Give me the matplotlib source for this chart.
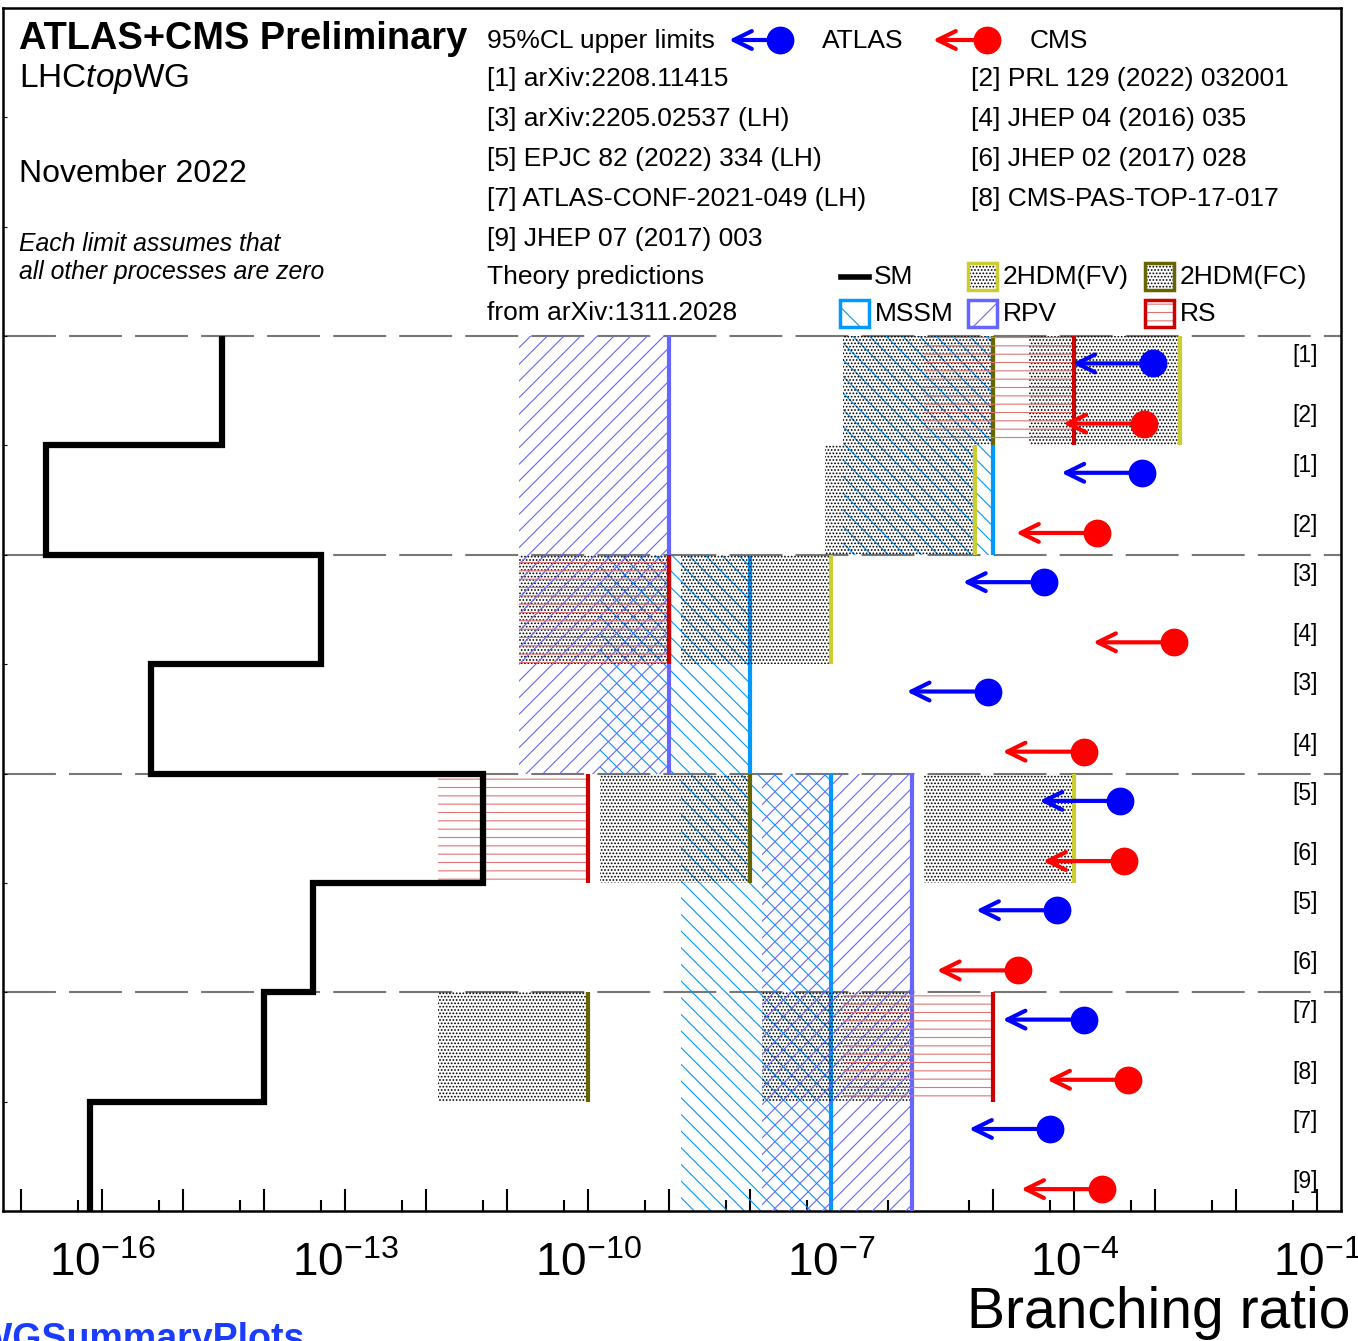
import numpy as np
import matplotlib.pyplot as plt
from matplotlib.patches import FancyArrowPatch, Rectangle
from matplotlib.lines import Line2D
from matplotlib.ticker import FixedLocator, FuncFormatter
import matplotlib.transforms as mtransforms

plt.rcParams['font.family'] = ['Liberation Sans', 'DejaVu Sans']
plt.rcParams['mathtext.fontset'] = 'custom'
plt.rcParams['mathtext.rm'] = 'Liberation Sans'
plt.rcParams['mathtext.it'] = 'Liberation Sans:italic'
plt.rcParams['mathtext.bf'] = 'Liberation Sans:bold'
plt.rcParams['hatch.linewidth'] = 0.8

# rows from top to bottom
processes = ['t->Hc', 't->Hu', 't->gamma c', 't->gamma u', 't->gc', 't->gu', 't->Zc', 't->Zu']
sm = [3e-15, 2e-17, 5e-14, 4e-16, 5e-12, 4e-14, 1e-14, 7e-17]
thdm_fv = [2e-3, 6e-6, 1e-7, None, 1e-4, None, 1e-6, None]
thdm_fc = [1e-5, None, 1e-9, None, 1e-8, None, 1e-10, None]
mssm = [1e-5, 1e-5, 1e-8, 1e-8, 1e-7, 1e-7, 1e-7, 1e-7]
rpv = [1e-9, 1e-9, 1e-9, 1e-9, 1e-6, 1e-6, 1e-6, 1e-6]
rs = [1e-4, None, 1e-9, None, 1e-10, None, 1e-5, None]

# 95% CL upper limits
atlas = [9.4e-4, 6.9e-4, 4.2e-5, 8.5e-6, 3.7e-4, 6.1e-5, 1.3e-4, 5.0e-5]
cms = [7.3e-4, 1.9e-4, 1.7e-3, 1.3e-4, 4.1e-4, 2.0e-5, 4.6e-4, 2.2e-4]
atlas_ref = ['[1]', '[1]', '[3]', '[3]', '[5]', '[5]', '[7]', '[7]']
cms_ref = ['[2]', '[2]', '[4]', '[4]', '[6]', '[6]', '[8]', '[9]']

refs_left = ['[1] arXiv:2208.11415', '[3] arXiv:2205.02537 (LH)',
             '[5] EPJC 82 (2022) 334 (LH)', '[7] ATLAS-CONF-2021-049 (LH)',
             '[9] JHEP 07 (2017) 003']
refs_right = ['[2] PRL 129 (2022) 032001', '[4] JHEP 04 (2016) 035',
              '[6] JHEP 02 (2017) 028', '[8] CMS-PAS-TOP-17-017']

W, H = 1358, 1341
fig = plt.figure(figsize=(W / 100, H / 100), dpi=100)


def fx(px):
    return px / W


def fy(py):
    return 1 - py / H


ax = fig.add_axes([fx(3), fy(1211), fx(1341) - fx(3), fy(8) - fy(1211)])
ax.set_xscale('log')
ax.set_xlim(10 ** -17.227, 10 ** -0.709)
ax.set_ylim(0, 11)

# theory bands: (values, hatch, hatch colour, line colour)
band = 10 ** 1.86
models = [
    (mssm, '\\\\', '#0099ff', '#0099ff'),
    (thdm_fv, '.....', 'black', '#cccc33'),
    (thdm_fc, '.....', 'black', '#666600'),
    (rpv, '//', '#6666ff', '#6666ff'),
    (rs, '--', '#e07575', '#cc0000'),
]
for k, (vals, hatch, hcol, lcol) in enumerate(models):
    for i, v in enumerate(vals):
        if v is None:
            continue
        top = 8 - i
        ax.barh(top - 0.5, v - v / band, left=v / band, height=1, fill=False,
                hatch=hatch, edgecolor=hcol, linewidth=0, zorder=2 + k)
        ax.vlines(v, top - 1, top, color=lcol, lw=3, zorder=2.5 + k)

# SM step line
sm_x = np.repeat(sm, 2)
sm_y = np.array([[8 - i, 7 - i] for i in range(len(sm))]).ravel()
ax.plot(sm_x, sm_y, color='black', lw=4.5, solid_joinstyle='miter',
        solid_capstyle='butt', zorder=20)

# separators
for y in [2, 4, 6, 8]:
    ax.axhline(y, color='#777777', lw=1.5, ls=(0, (25.4, 6.3)), zorder=1)

# limits
trans = mtransforms.blended_transform_factory(ax.transAxes, ax.transData)
for i in range(len(atlas)):
    top = 8 - i
    for val, yoff, col, ref in ((atlas[i], 0.25, '#0000ff', atlas_ref[i]),
                                (cms[i], 0.8, '#ff0000', cms_ref[i])):
        y = top - yoff
        arr = FancyArrowPatch((val, y), (val / 10, y),
                              arrowstyle='->,head_length=0.65,head_width=0.32',
                              mutation_scale=20, color=col, lw=3,
                              shrinkA=0, shrinkB=0, zorder=30)
        ax.add_patch(arr)
        ax.plot([val], [y], 'o', ms=19, color=col, zorder=31)
        ax.text(0.973, y + 0.07, ref, transform=trans, ha='center',
                va='center', fontsize=16.5)

# axes styling
for s in ax.spines.values():
    s.set_linewidth(1.8)
ax.xaxis.set_major_locator(FixedLocator([10.0 ** e for e in range(-17, 0)]))
ax.xaxis.set_minor_locator(FixedLocator([5 * 10.0 ** e for e in range(-18, -1)]))


def fmt(v, pos):
    e = int(round(np.log10(v)))
    return r'$10^{%d}$' % e if e % 3 == 2 else ''


ax.xaxis.set_major_formatter(FuncFormatter(fmt))
ax.xaxis.set_minor_formatter(FuncFormatter(lambda v, p: ''))
ax.tick_params(axis='x', which='major', direction='in', length=16, width=1.5,
               labelsize=33, pad=22, top=False)
ax.tick_params(axis='x', which='minor', direction='in', length=8, width=1.5,
               top=False)
ax.set_yticks(range(1, 11))
ax.tick_params(axis='y', direction='in', length=3, labelleft=False)

fig.text(fx(1350), fy(1328), 'Branching ratio', ha='right', va='baseline',
         fontsize=41)
fig.text(fx(305), fy(1322), 'LHCTopWGSummaryPlots', ha='right', va='top',
         fontsize=27, fontweight='bold', color='#1a3cff')

# header text
fig.text(fx(19), fy(49), 'ATLAS+CMS Preliminary', fontsize=27.4,
         fontweight='bold', va='baseline')
fig.text(fx(19), fy(87), r'LHC$\mathit{top}$WG', fontsize=24, va='baseline')
fig.text(fx(19), fy(182), 'November 2022', fontsize=23, va='baseline')
fig.text(fx(19), fy(251), 'Each limit assumes that', fontsize=17.8,
         style='italic', va='baseline')
fig.text(fx(19), fy(279), 'all other processes are zero', fontsize=17.8,
         style='italic', va='baseline')

lfs = 19
fig.text(fx(487), fy(48), '95%CL upper limits', fontsize=lfs, va='baseline')
fig.text(fx(822), fy(48), 'ATLAS', fontsize=lfs, va='baseline')
fig.text(fx(1030), fy(48), 'CMS', fontsize=lfs, va='baseline')
for j, t in enumerate(refs_left):
    fig.text(fx(487), fy(86 + 40 * j), t, fontsize=lfs, va='baseline')
for j, t in enumerate(refs_right):
    fig.text(fx(971), fy(86 + 40 * j), t, fontsize=lfs, va='baseline')
fig.text(fx(487), fy(284), 'Theory predictions', fontsize=lfs, va='baseline')
fig.text(fx(487), fy(320), 'from arXiv:1311.2028', fontsize=lfs, va='baseline')

for xd, xt, col in ((780, 729, '#0000ff'), (987, 933, '#ff0000')):
    fig.add_artist(FancyArrowPatch((fx(xd), fy(40)), (fx(xt), fy(40)),
                                   transform=fig.transFigure,
                                   arrowstyle='->,head_length=0.65,head_width=0.32',
                                   mutation_scale=20, color=col, lw=3,
                                   shrinkA=0, shrinkB=0))
    fig.add_artist(Line2D([fx(xd)], [fy(40)], marker='o', ms=19, color=col,
                          transform=fig.transFigure))

# theory legend
fig.add_artist(Line2D([fx(841), fx(869)], [fy(277), fy(277)], color='black',
                      lw=4, transform=fig.transFigure))
fig.text(fx(874), fy(284), 'SM', fontsize=lfs, va='baseline')
leg = [
    (968, 263, '.....', 'black', '#cccc33', '2HDM(FV)'),
    (1145, 263, '.....', 'black', '#666600', '2HDM(FC)'),
    (840, 300, '\\', '#0099ff', '#0099ff', 'MSSM'),
    (968, 300, '/', '#6666ff', '#6666ff', 'RPV'),
    (1145, 300, '--', '#e07575', '#cc0000', 'RS'),
]
for x0, y0, hatch, hcol, ecol, lab in leg:
    fig.add_artist(Rectangle((fx(x0), fy(y0 + 27)), fx(29), 27 / H,
                             transform=fig.transFigure, fill=False,
                             hatch=hatch, edgecolor=hcol, linewidth=0))
    fig.add_artist(Rectangle((fx(x0), fy(y0 + 27)), fx(29), 27 / H,
                             transform=fig.transFigure, fill=False,
                             edgecolor=ecol, linewidth=2.5))
    fig.text(fx(x0 + 35), fy(y0 + 21), lab, fontsize=lfs, va='baseline')

fig.savefig('out.png', dpi=100)
